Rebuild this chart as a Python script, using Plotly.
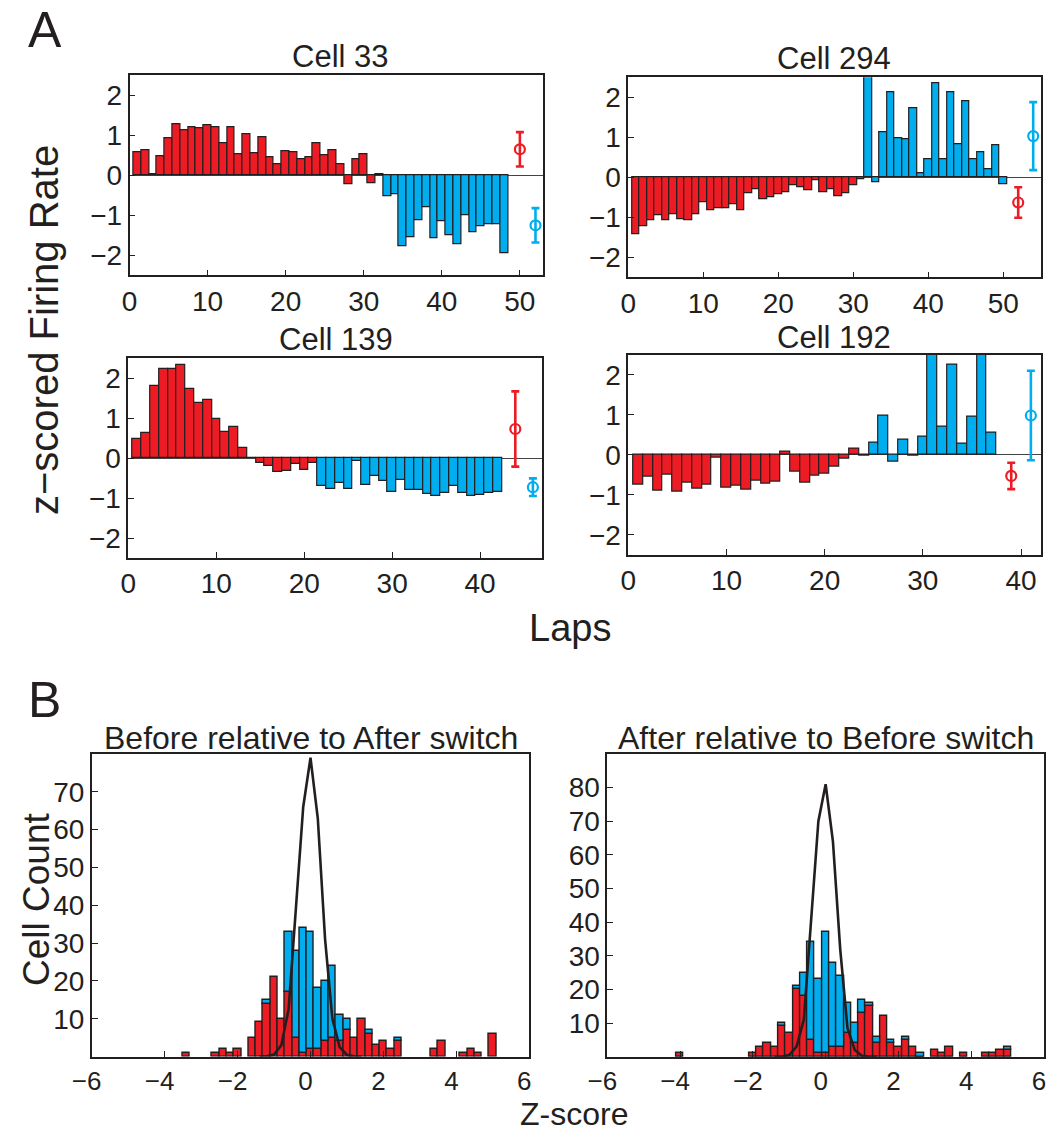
import plotly.graph_objects as go

W, H = 1049, 1133
RED = "#ed1c24"
BLUE = "#00aeef"
INK = "#231f20"
FONT = "Liberation Sans, Arial, Helvetica, sans-serif"

# ---------------- data: panel A (z-scored firing rate per lap) ----------------
cell_names = ["Cell 33", "Cell 294", "Cell 139", "Cell 192"]

red_33 = [0.575, 0.62, 0.02, 0.47, 0.93, 1.27, 1.12, 1.21, 1.18, 1.24, 1.21, 0.80,
          1.19, 0.52, 1.03, 0.56, 0.94, 0.45, 0.27, 0.61, 0.575, 0.41, 0.46, 0.79,
          0.50, 0.63, 0.27, -0.22, 0.39, 0.53, -0.19, 0.03]
blue_33 = [-0.52, -0.47, -1.78, -1.54, -1.13, -0.81, -1.575, -1.14, -1.50, -1.73,
           -1.01, -1.42, -1.28, -1.23, -1.22, -1.95]

red_294 = [-1.42, -1.22, -1.08, -0.95, -1.08, -0.93, -1.04, -1.08, -0.93, -0.62,
           -0.83, -0.78, -0.78, -0.67, -0.83, -0.39, -0.29, -0.56, -0.49, -0.43,
           -0.37, -0.21, -0.25, -0.32, -0.07, -0.37, -0.29, -0.47, -0.41, -0.20, -0.05]
blue_294 = [2.70, -0.12, 1.13, 2.12, 0.98, 0.95, 1.72, 0.11, 0.45, 2.35, 0.45, 2.12,
            0.83, 1.89, 0.45, 0.63, 0.21, 0.80, -0.17]

red_139 = [0.475, 0.63, 1.81, 2.23, 2.22, 2.33, 1.72, 1.375, 1.45, 0.98, 0.65, 0.775,
           0.25, 0.0, -0.13, -0.20, -0.35, -0.32, -0.15, -0.30, -0.13]
blue_139 = [-0.71, -0.78, -0.63, -0.775, -0.08, -0.68, -0.45, -0.575, -0.86, -0.55,
            -0.79, -0.80, -0.91, -0.94, -0.87, -0.71, -0.875, -0.94, -0.93, -0.87, -0.85]

red_192 = [-0.75, -0.56, -0.91, -0.50, -0.92, -0.69, -0.86, -0.75, -0.08, -0.82,
           -0.77, -0.87, -0.65, -0.72, -0.67, 0.08, -0.43, -0.70, -0.52, -0.48,
           -0.29, -0.10, 0.14]
blue_192 = [-0.03, 0.29, 0.97, -0.18, 0.37, -0.03, 0.45, 2.70, 0.71, 2.26, 0.27,
            0.94, 2.80, 0.55]

# summary points (mean +/- error) shown right of the bars
mean_x_red = [50, 52, 44, 39]
mean_y_red = [0.65, -0.63, 0.725, -0.53]
mean_e_red = [0.43, 0.38, 0.94, 0.33]
mean_x_blue = [52, 54, 46, 41]
mean_y_blue = [-1.25, 1.03, -0.73, 0.98]
mean_e_blue = [0.43, 0.85, 0.22, 1.12]
lap_xmax = [53, 55, 47, 42]
lap_ticks = [0, 10, 20, 30, 40, 50]
z_ticks = [-2, -1, 0, 1, 2]

# ---------------- data: panel B (histograms of z-scores) ----------------
hist_titles = ["Before relative to After switch", "After relative to Before switch"]

bins_L = [-3.4, -2.6, -2.4, -2.2, -2.0, -1.6, -1.4, -1.2, -1.0, -0.8, -0.6, -0.4,
          -0.2, 0.0, 0.2, 0.4, 0.6, 0.8, 1.0, 1.2, 1.4, 1.6, 1.8, 2.0, 2.2, 2.4,
          3.4, 3.6, 4.2, 4.4, 4.6, 5.0]
red_L = [1, 1, 2, 1, 2, 5, 9, 14, 21, 10, 17, 5, 1, 2, 2, 4, 5, 4, 7, 5, 10, 6, 3,
         4, 2, 4, 2, 4, 1, 2, 1, 6]
blue_L = [0, 0, 0, 0, 0, 0, 0, 1, 0, 0, 16, 23, 33, 31, 16, 16, 19, 7, 3, 0, 0, 1,
          0, 0, 0, 1, 0, 0, 0, 0, 0, 0]
curve_x_L = [-1.4, -1.2, -1.0, -0.8, -0.6, -0.4, -0.2, 0.0, 0.2, 0.4, 0.6, 0.8, 1.0, 1.2, 1.4]
curve_y_L = [0.0, 0.05, 0.5, 3.0, 12.5, 38.5, 66.0, 79.0, 63.0, 31.0, 10.0, 2.5, 0.4, 0.05, 0.0]

bins_R = [-4.0, -2.0, -1.8, -1.6, -1.4, -1.2, -1.0, -0.8, -0.6, -0.4, -0.2, 0.0,
          0.2, 0.4, 0.6, 0.8, 1.0, 1.2, 1.4, 1.6, 1.8, 2.0, 2.2, 2.4, 2.6, 3.0,
          3.2, 3.4, 3.8, 4.4, 4.6, 4.8, 5.0]
red_R = [1, 1, 3, 4, 3, 9, 7, 20, 18, 5, 1, 1, 3, 3, 7, 4, 13, 15, 4, 12, 4, 3, 5,
         3, 0, 2, 1, 3, 1, 1, 1, 2, 2]
blue_R = [0, 0, 0, 0, 0, 1, 0, 1, 7, 29, 22, 36, 25, 21, 9, 6, 4, 1, 2, 0, 1, 0, 1,
          0, 1, 0, 0, 0, 0, 0, 0, 0, 1]
curve_x_R = [-1.4, -1.2, -1.0, -0.8, -0.6, -0.4, -0.2, 0.0, 0.2, 0.4, 0.6, 0.8, 1.0, 1.2, 1.4]
curve_y_R = [0.0, 0.05, 0.5, 3.0, 11.0, 40.0, 70.0, 81.0, 64.0, 32.0, 8.5, 2.0, 0.3, 0.05, 0.0]

hist_xticks = [-6, -4, -2, 0, 2, 4, 6]
hist_yticks_L = [10, 20, 30, 40, 50, 60, 70]
hist_yticks_R = [10, 20, 30, 40, 50, 60, 70, 80]
hist_ymax = [80, 90]

# ---------------- layout geometry (pixels) ----------------
boxes = [
    (129.5, 543.3, 75.3, 275.3),
    (628.3, 1040.7, 77.3, 277.3),
    (128.3, 541.7, 358.0, 558.0),
    (628.3, 1040.7, 354.7, 554.7),
    (91.7, 529.3, 754.0, 1056.5),
    (607.3, 1044.0, 754.0, 1056.7),
]


def px_dom(b):
    x0, x1, y0, y1 = b
    return [x0 / W, x1 / W], [1 - y1 / H, 1 - y0 / H]


fig = go.Figure()
layout = dict(
    width=W, height=H, margin=dict(l=0, r=0, t=0, b=0, autoexpand=False),
    paper_bgcolor="white", plot_bgcolor="white", showlegend=False,
    barmode="overlay", bargap=0,
    font=dict(family=FONT, color=INK, size=24),
)

axis_common = dict(
    showline=True, mirror=True, linecolor=INK, linewidth=1.6,
    ticks="inside", ticklen=6, tickwidth=1.4, tickcolor=INK,
    showgrid=False, automargin=False,
    tickfont=dict(family=FONT, size=28, color=INK),
)

red_sets = [red_33, red_294, red_139, red_192]
blue_sets = [blue_33, blue_294, blue_139, blue_192]

for i in range(4):
    k = i + 1
    xa, ya = f"x{k}", f"y{k}"
    reds = red_sets[i]
    blues = blue_sets[i]
    nr = len(reds)
    xr = list(range(1, nr + 1))
    xb = list(range(nr + 1, nr + 1 + len(blues)))
    fig.add_trace(go.Bar(x=xr, y=reds, width=1, xaxis=xa, yaxis=ya,
                         marker=dict(color=RED, line=dict(color=INK, width=1.2))))
    fig.add_trace(go.Bar(x=xb, y=blues, width=1, xaxis=xa, yaxis=ya,
                         marker=dict(color=BLUE, line=dict(color=INK, width=1.2))))
    for mx, my, me, col in [(mean_x_red[i], mean_y_red[i], mean_e_red[i], RED),
                            (mean_x_blue[i], mean_y_blue[i], mean_e_blue[i], BLUE)]:
        fig.add_trace(go.Scatter(
            x=[mx], y=[my], mode="markers", xaxis=xa, yaxis=ya,
            marker=dict(symbol="circle-open", size=10, color=col, line=dict(width=2.2, color=col)),
            error_y=dict(type="data", array=[me], color=col, thickness=2.6, width=4),
        ))
    xd, yd = px_dom(boxes[i])
    layout[f"xaxis{k}"] = dict(axis_common, domain=xd, anchor=ya, range=[0, lap_xmax[i]],
                               tickvals=[t for t in lap_ticks if t <= lap_xmax[i]], zeroline=False)
    layout[f"yaxis{k}"] = dict(axis_common, domain=yd, anchor=xa, range=[-2.5, 2.5],
                               tickvals=z_ticks, zeroline=True, zerolinecolor="#444444",
                               zerolinewidth=1)

hist_sets = [(bins_L, red_L, blue_L, curve_x_L, curve_y_L, hist_yticks_L),
             (bins_R, red_R, blue_R, curve_x_R, curve_y_R, hist_yticks_R)]
for j, (bins, reds, blues, cx, cy, yt) in enumerate(hist_sets):
    k = 5 + j
    xa, ya = f"x{k}", f"y{k}"
    fig.add_trace(go.Bar(x=bins, y=reds, width=0.2, xaxis=xa, yaxis=ya,
                         marker=dict(color=RED, line=dict(color=INK, width=1.4))))
    bx = [b for b, v in zip(bins, blues) if v > 0]
    by = [v for v in blues if v > 0]
    bb = [r for r, v in zip(reds, blues) if v > 0]
    fig.add_trace(go.Bar(x=bx, y=by, base=bb, width=0.2, xaxis=xa, yaxis=ya,
                         marker=dict(color=BLUE, line=dict(color=INK, width=1.4))))
    fig.add_trace(go.Scatter(x=cx, y=cy, mode="lines", xaxis=xa, yaxis=ya,
                             line=dict(color=INK, width=2.6)))
    xd, yd = px_dom(boxes[4 + j])
    layout[f"xaxis{k}"] = dict(axis_common, domain=xd, anchor=ya, range=[-6, 6],
                               tickvals=hist_xticks, zeroline=False, ticklabelshift=-5,
                               tickfont=dict(family=FONT, size=26, color=INK))
    layout[f"yaxis{k}"] = dict(axis_common, domain=yd, anchor=xa, range=[0, hist_ymax[j]],
                               tickvals=yt, zeroline=False)


def ann(text, xpx, ypx, size, angle=0, xanchor="center"):
    return dict(text=text, x=xpx / W, y=1 - ypx / H, xref="paper", yref="paper",
                showarrow=False, textangle=angle, xanchor=xanchor, yanchor="middle",
                font=dict(family=FONT, size=size, color=INK))


annotations = [
    ann("A", 26, 30, 50, xanchor="left"),
    ann("B", 26, 700, 50, xanchor="left"),
    ann(cell_names[0], 340, 57, 31),
    ann(cell_names[1], 834, 58, 31),
    ann(cell_names[2], 336, 339, 31),
    ann(cell_names[3], 834, 337, 31),
    ann("z\u2212scored Firing Rate", 44, 330, 40, angle=-90),
    ann("Laps", 570, 628, 38),
    ann(hist_titles[0], 311, 738, 32),
    ann(hist_titles[1], 826, 738, 32),
    ann("Cell Count", 36, 900, 37, angle=-90),
    ann("Z-score", 574, 1114, 32),
]
layout["annotations"] = annotations
fig.update_layout(**layout)
fig.write_html("out.html")
